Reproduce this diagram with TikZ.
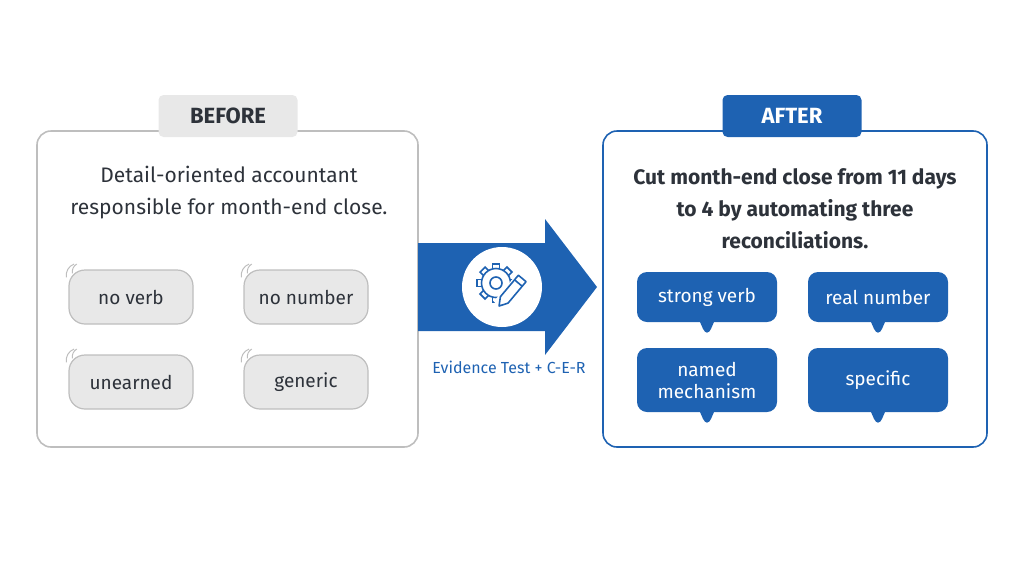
\documentclass[tikz,border=0pt]{standalone}
\usepackage{fontspec}
\setmainfont{Fira Sans}
\usetikzlibrary{positioning,calc,shapes.callouts}
\definecolor{afterblue}{RGB}{30,98,178}
\definecolor{beforegray}{RGB}{232,232,232}
\definecolor{edgegray}{RGB}{190,190,190}
\definecolor{inkdark}{RGB}{45,50,58}

\begin{document}
\begin{tikzpicture}[x=1pt, y=-1pt,
    panel/.style={rectangle, rounded corners=14pt, line width=1.6pt},
    tab/.style={rectangle, rounded corners=5pt, minimum width=139pt, minimum height=42pt, font=\fontsize{22}{24}\selectfont\bfseries},
    lead/.style={align=center, font=\fontsize{21}{32}\selectfont, text=inkdark},
    weak/.style={rectangle, rounded corners=16pt, draw=edgegray, fill=beforegray, line width=1.2pt, minimum width=124pt, minimum height=54pt, font=\fontsize{19}{21}\selectfont, text=inkdark},
    strong/.style={rectangle callout, rounded corners=10pt, fill=afterblue, text=white, minimum width=140pt, align=center, font=\fontsize{19}{22}\selectfont, callout relative pointer={(0,-16pt)}, callout pointer width=14pt},
    wiggle/.style={edgegray, line width=1pt}
]
\useasboundingbox (0,0) rectangle (1024,576);

% Before panel
\draw[panel, draw=edgegray] (37,131) rectangle (418,447);
\node[tab, fill=beforegray, text=inkdark] (before) at (228,116) {BEFORE};
\node[lead] (oldline) at (229,193) {Detail-oriented accountant\\responsible for month-end close.};

\node[weak] (noverb) at (131,297) {no verb};
\node[weak] (nonumber) at (306,297) {no number};
\node[weak] (unearned) at (131,382) {unearned};
\node[weak] (generic) at (306,382) {generic};
\foreach \b in {noverb,nonumber,unearned,generic}{
  \draw[wiggle] ($(\b.north west)+(-2,8)$) arc (190:110:12pt);
  \draw[wiggle] ($(\b.north west)+(4,4)$) arc (190:120:9pt);
}

% Arrow
\fill[afterblue] (418,243) -- (545,243) -- (545,219) -- (597,287) -- (545,355) -- (545,331) -- (418,331) -- cycle;
\node[circle, fill=white, minimum size=80pt] (icon) at (502,287) {};
\begin{scope}[shift={(496,283)}, afterblue, line width=1.6pt]
  \foreach \a in {0,45,...,315}
    \draw[rotate=\a] (-3.5,-14) -- (-3.5,-19) -- (3.5,-19) -- (3.5,-14);
  \draw (0,0) circle (14.5pt);
  \draw (0,0) circle (6pt);
  \begin{scope}[shift={(14,10)}, rotate=-40]
    \fill[white] (-7,-20) rectangle (7,17);
    \draw[line join=round] (-5,-19) -- (-5,9) -- (0,17) -- (5,9) -- (5,-19) -- cycle;
    \draw (-5,-13) -- (5,-13);
  \end{scope}
\end{scope}
\node[text=afterblue, font=\fontsize{16}{18}\selectfont] (method) at (509,367) {Evidence Test + C-E-R};

% After panel
\draw[panel, draw=afterblue] (603,131) rectangle (987,447);
\node[tab, fill=afterblue, text=white] (after) at (792,116) {AFTER};
\node[lead, font=\fontsize{21}{32}\selectfont\bfseries] (newline) at (795,209) {Cut month-end close from 11 days\\to 4 by automating three\\reconciliations.};

\node[strong, minimum height=50pt] (verb) at (707,297) {strong verb};
\node[strong, minimum height=50pt] (number) at (878,297) {real number};
\node[strong, minimum height=64pt] (mechanism) at (707,380) {named\\mechanism};
\node[strong, minimum height=64pt] (specific) at (878,380) {specific};

\end{tikzpicture}
\end{document}
